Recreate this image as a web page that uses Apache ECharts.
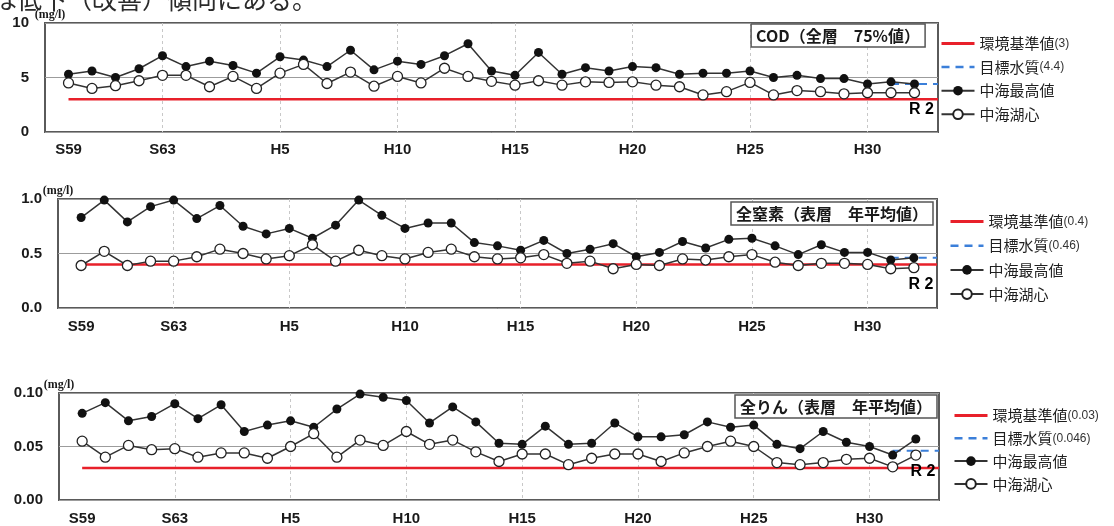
<!DOCTYPE html>
<html>
<head>
<meta charset="utf-8">
<script src="https://cdn.jsdelivr.net/npm/echarts@6/dist/echarts.min.js"></script>
<style>
  html, body { margin: 0; padding: 0; background: #fff; }
  #chart { width: 1114px; height: 526px; }
</style>
</head>
<body>
<div id="chart"></div>
<script>
// Axis positions: one slot of padding on each side of the 1984–2020 record
const axisYears = [1983, 1984, 1985, 1986, 1987, 1988, 1989, 1990, 1991, 1992,
  1993, 1994, 1995, 1996, 1997, 1998, 1999, 2000, 2001, 2002,
  2003, 2004, 2005, 2006, 2007, 2008, 2009, 2010, 2011, 2012,
  2013, 2014, 2015, 2016, 2017, 2018, 2019, 2020, 2021];
const firstYear = 1984;
const lastYear = 2020;

// Era tick labels on the x axis
const tickYears = [1984, 1988, 1993, 1998, 2003, 2008, 2013, 2018];
const tickLabels = ['S59', 'S63', 'H5', 'H10', 'H15', 'H20', 'H25', 'H30'];
const gridYears = [1988, 1993, 1998, 2003, 2008, 2013, 2018];
const lastYearLabel = 'R 2';

// COD (all layers, 75% value), mg/l, 1984–2020
const codMax = [5.3, 5.6, 5.0, 5.8, 7.0, 6.0, 6.5, 6.1, 5.4, 6.9, 6.6, 6.0, 7.5, 5.7, 6.5, 6.2, 7.0, 8.1, 5.6,
  5.2, 7.3, 5.3, 5.9, 5.6, 6.0, 5.9, 5.3, 5.4, 5.4, 5.6, 5.0, 5.2, 4.9, 4.9, 4.4, 4.6, 4.4];
const codCenter = [4.5, 4.0, 4.25, 4.7, 5.2, 5.2, 4.15, 5.1, 4.0, 5.4, 6.2, 4.45, 5.5, 4.2, 5.1, 4.5, 5.85, 5.1, 4.65,
  4.3, 4.7, 4.3, 4.6, 4.55, 4.6, 4.3, 4.15, 3.4, 3.7, 4.55, 3.4, 3.8, 3.7, 3.5, 3.6, 3.6, 3.6];

// Total nitrogen (surface, annual mean), mg/l
const tnMax = [0.83, 0.99, 0.79, 0.93, 0.99, 0.82, 0.94, 0.75, 0.68, 0.73, 0.64, 0.76, 0.99, 0.85, 0.73, 0.78, 0.78, 0.60, 0.57,
  0.53, 0.62, 0.50, 0.54, 0.59, 0.47, 0.51, 0.61, 0.55, 0.63, 0.64, 0.57, 0.49, 0.58, 0.51, 0.51, 0.44, 0.46];
const tnCenter = [0.39, 0.52, 0.39, 0.43, 0.43, 0.47, 0.54, 0.50, 0.45, 0.48, 0.58, 0.43, 0.53, 0.48, 0.45, 0.51, 0.54, 0.47, 0.45,
  0.46, 0.49, 0.41, 0.43, 0.36, 0.40, 0.39, 0.45, 0.44, 0.47, 0.49, 0.42, 0.39, 0.41, 0.41, 0.40, 0.36, 0.37];

// Total phosphorus (surface, annual mean), mg/l
const tpMax = [0.081, 0.091, 0.074, 0.078, 0.090, 0.076, 0.089, 0.064, 0.070, 0.074, 0.068, 0.085, 0.099, 0.096, 0.093, 0.072, 0.087, 0.073, 0.053,
  0.052, 0.069, 0.052, 0.053, 0.072, 0.059, 0.059, 0.061, 0.073, 0.068, 0.070, 0.052, 0.048, 0.064, 0.054, 0.050, 0.042, 0.057];
const tpCenter = [0.055, 0.040, 0.051, 0.047, 0.048, 0.040, 0.044, 0.044, 0.039, 0.050, 0.062, 0.040, 0.056, 0.051, 0.064, 0.052, 0.056, 0.045, 0.036,
  0.043, 0.043, 0.033, 0.039, 0.043, 0.043, 0.036, 0.044, 0.050, 0.055, 0.050, 0.035, 0.033, 0.035, 0.038, 0.039, 0.031, 0.042];

// Reference levels: environmental standard and water-quality target
const standardValues = [3, 0.4, 0.03];
const targetValues = [4.4, 0.46, 0.046];
const standardFrom = 1984;
const targetFrom = 2019;

const panelTitles = ['COD（全層　75%値）', '全窒素（表層　年平均値）', '全りん（表層　年平均値）'];
const standardNames = ['環境基準値(3)', '環境基準値(0.4)', '環境基準値(0.03)'];
const targetNames = ['目標水質(4.4)', '目標水質(0.46)', '目標水質(0.046)'];
const maxName = '中海最高値';
const centerName = '中海湖心';
const yMax = [10, 1.0, 0.10];
const yStep = [5, 0.5, 0.05];
const yDecimals = [0, 1, 2];
const unitLabel = '(mg/l)';
const headText = 'は低下（改善）傾向にある。';

const maxSets = [codMax, tnMax, tpMax];
const centerSets = [codCenter, tnCenter, tpCenter];

// Layout of the three stacked panels
const layout = [
  { left: 45, right: 176, top: 23, height: 109, legendLeft: 940, legendTop: 36, legendGap: 8.6, titleRight: 189, titleTop: 24, unitPad: 10, labelMargin: 10 },
  { left: 58, right: 177, top: 199, height: 109, legendLeft: 949, legendTop: 214, legendGap: 9.2, titleRight: 181, titleTop: 202, unitPad: 0, labelMargin: 11 },
  { left: 59, right: 175, top: 393, height: 108, legendLeft: 953, legendTop: 408, legendGap: 7.8, titleRight: 177, titleTop: 395, unitPad: 0, labelMargin: 11 }
];

const cats = axisYears.map(String);
const CJK = '"Noto Sans CJK JP", "Noto Sans", sans-serif';
const LAT = '"Liberation Sans", Arial, sans-serif';

function padSeries(values, labelLast) {
  return axisYears.map(y => {
    if (y < firstYear || y > lastYear) return null;
    const v = values[y - firstYear];
    if (labelLast && y === lastYear) {
      return {
        value: v,
        label: {
          show: true, position: 'bottom', distance: 3, offset: [7, 0],
          formatter: lastYearLabel, fontFamily: LAT, fontWeight: 'bold',
          fontSize: 16, color: '#000'
        }
      };
    }
    return v;
  });
}
function levelSeries(level, from) {
  return axisYears.map(y => (y >= from ? level : null));
}

const grids = [], xAxes = [], yAxes = [], series = [], legends = [], titles = [];

layout.forEach((L, i) => {
  grids.push({
    left: L.left, right: L.right, top: L.top, height: L.height,
    show: true, borderColor: '#5a5a5a', borderWidth: 2, backgroundColor: '#fff'
  });
  xAxes.push({
    type: 'category', gridIndex: i, data: cats, boundaryGap: false,
    axisLine: { show: false }, axisTick: { show: false },
    axisLabel: {
      interval: (idx, val) => tickYears.includes(+val),
      formatter: val => { const k = tickYears.indexOf(+val); return k >= 0 ? tickLabels[k] : ''; },
      margin: L.labelMargin, fontFamily: LAT, fontWeight: 'bold', fontSize: 15, color: '#1a1a1a'
    },
    splitLine: {
      show: true,
      interval: (idx, val) => gridYears.includes(+val),
      lineStyle: { color: '#c8c8c8', type: [3, 3], width: 1 }
    }
  });
  yAxes.push({
    type: 'value', gridIndex: i, min: 0, max: yMax[i], interval: yStep[i],
    name: unitLabel, nameLocation: 'end', nameGap: 8, nameMoveOverlap: false,
    nameTextStyle: {
      fontFamily: '"Liberation Serif", serif', fontWeight: 'bold', fontSize: 12,
      color: '#1a1a1a', padding: [0, 0, 0, L.unitPad],
      verticalAlign: 'middle', align: 'center', lineHeight: 12
    },
    axisLine: { show: false }, axisTick: { show: false },
    axisLabel: {
      margin: 16, fontFamily: LAT, fontWeight: 'bold', fontSize: 15, color: '#1a1a1a',
      formatter: v => v.toFixed(yDecimals[i])
    },
    splitLine: { lineStyle: { color: '#9c9c9c', width: 1 } }
  });

  series.push({
    name: standardNames[i], type: 'line', xAxisIndex: i, yAxisIndex: i,
    data: levelSeries(standardValues[i], standardFrom), symbol: 'none',
    color: '#e8202a', lineStyle: { color: '#e8202a', width: 2.5 }, silent: true, z: 1
  });
  series.push({
    name: targetNames[i], type: 'line', xAxisIndex: i, yAxisIndex: i,
    data: levelSeries(targetValues[i], targetFrom), symbol: 'none',
    color: '#3b7fd9', lineStyle: { color: '#3b7fd9', width: 2, type: [8, 6] }, silent: true, z: 1
  });
  series.push({
    name: maxName, type: 'line', xAxisIndex: i, yAxisIndex: i,
    data: padSeries(maxSets[i], false), symbol: 'circle', symbolSize: 9,
    itemStyle: { color: '#111', borderColor: '#111', borderWidth: 0 },
    lineStyle: { color: '#333', width: 1.5 }, z: 3
  });
  series.push({
    name: centerName, type: 'line', xAxisIndex: i, yAxisIndex: i,
    data: padSeries(centerSets[i], true), symbol: 'circle', symbolSize: 10,
    itemStyle: { color: '#fff', borderColor: '#222', borderWidth: 1.3 },
    lineStyle: { color: '#333', width: 1.5 }, z: 4
  });

  legends.push({
    orient: 'vertical', left: L.legendLeft, top: L.legendTop, padding: 0,
    itemWidth: 33, itemHeight: 12, itemGap: L.legendGap, selectedMode: false,
    data: [
      { name: standardNames[i], itemStyle: { opacity: 0 }, lineStyle: { width: 3 } },
      { name: targetNames[i], itemStyle: { opacity: 0 }, lineStyle: { width: 2.5 } },
      maxName, centerName
    ],
    formatter: name => {
      const p = name.indexOf('(');
      return p < 0 ? '{n|' + name + '}' : '{n|' + name.slice(0, p) + '}{v|' + name.slice(p) + '}';
    },
    textStyle: {
      rich: {
        n: { fontFamily: CJK, fontSize: 15, color: '#1f1f1f', lineHeight: 16 },
        v: { fontFamily: LAT, fontSize: 12, color: '#333', lineHeight: 16 }
      }
    }
  });

  titles.push({
    text: panelTitles[i], right: L.titleRight, top: L.titleTop,
    padding: [2, 5, 2, 5], borderColor: '#555', borderWidth: 1.5, backgroundColor: '#fff',
    textStyle: { fontFamily: CJK, fontWeight: 'bold', fontSize: 16, color: '#1a1a1a', lineHeight: 19 }
  });
});

const chart = echarts.init(document.getElementById('chart'), null, { renderer: 'canvas' });
chart.setOption({
  animation: false,
  backgroundColor: '#fff',
  title: titles,
  legend: legends,
  grid: grids,
  xAxis: xAxes,
  yAxis: yAxes,
  series: series,
  graphic: [{
    type: 'text', left: -8, top: -13, silent: true, z: -1,
    style: { text: headText, font: '25px ' + CJK, fill: '#2a2a2a' }
  }]
});
</script>
</body>
</html>
